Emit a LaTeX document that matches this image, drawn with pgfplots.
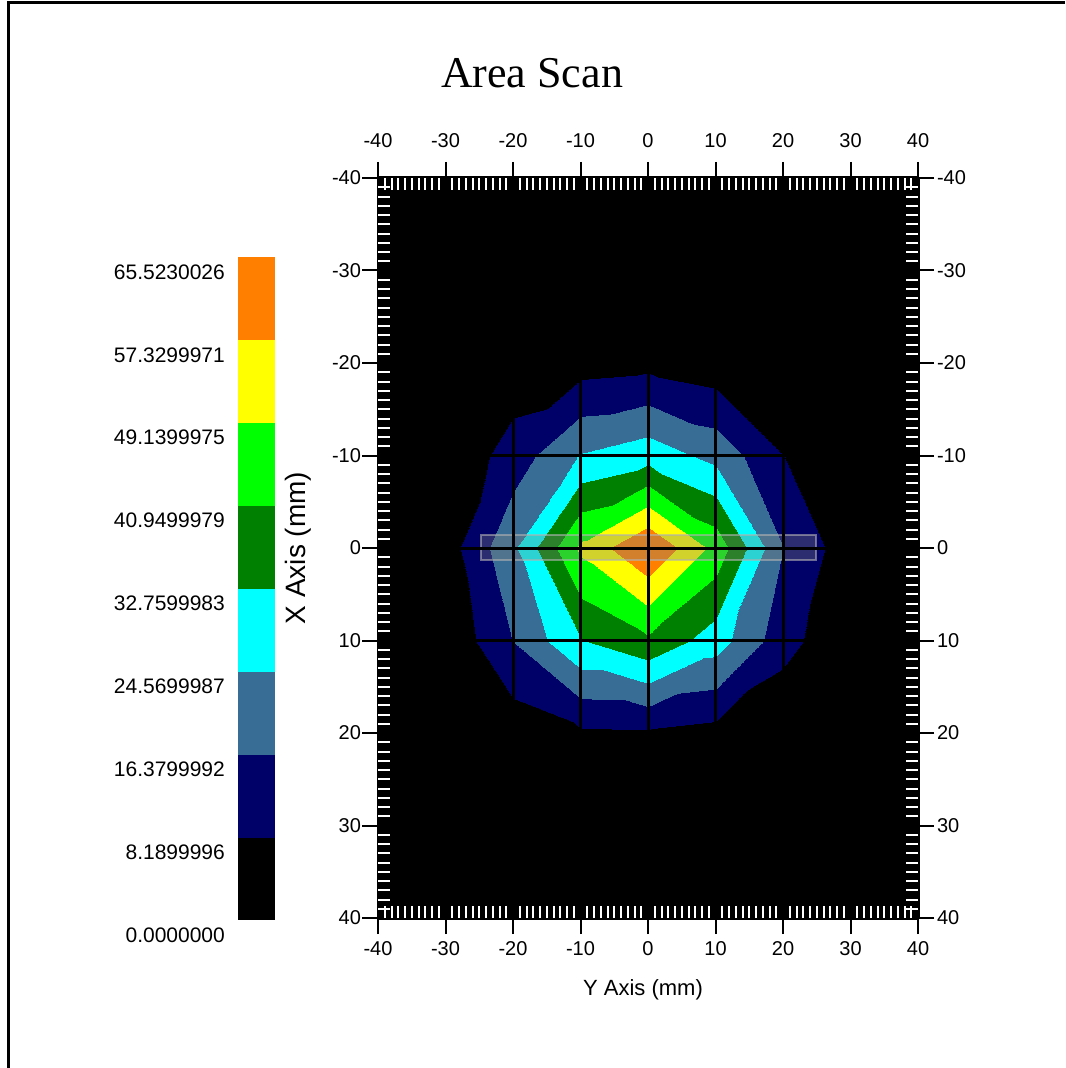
\documentclass[border=0pt]{standalone}
\usepackage{fontspec}
\setmainfont{Liberation Sans}
\newfontfamily\titlefont{Liberation Serif}
\usepackage{pgfplots}
\pgfplotsset{compat=1.18}

% discrete colour steps of the scan (8 bands)
\pgfplotsset{
  colormap={scan}{
    rgb255=(0,0,0) rgb255=(0,0,105) rgb255=(56,110,150) rgb255=(0,255,255)
    rgb255=(0,128,0) rgb255=(0,255,0) rgb255=(255,255,0) rgb255=(255,128,0)},
  scanpatch/.style={surf, shader=interp, mesh/cols=5, point meta=explicit},
}

% grid values, one quadrant per table (x order chosen so the cells split
% along the diagonal that follows the contours)
% upper right: Y -40..0, X 40..0
\pgfplotstableread{
x y v
40 -40 0
30 -40 0
20 -40 0
10 -40 0
0 -40 0

40 -30 0
30 -30 0
20 -30 0
10 -30 0
0 -30 0

40 -20 0
30 -20 0
20 -20 0.5
10 -20 3.0
0 -20 5.7

40 -10 0
30 -10 0.5
20 -10 8.4
10 -10 22.0
0 -10 29.5

40 0 0
30 0 3.1
20 0 16.5
10 0 46.5
0 0 65.523
}\quadUR

% upper left: Y -40..0, X -40..0
\pgfplotstableread{
x y v
-40 -40 0
-30 -40 0
-20 -40 0
-10 -40 0
0 -40 0

-40 -30 0
-30 -30 0
-20 -30 0
-10 -30 0
0 -30 0

-40 -20 0
-30 -20 0
-20 -20 2.6
-10 -20 4.5
0 -20 5.7

-40 -10 0
-30 -10 1.0
-20 -10 12.0
-10 -10 25.2
0 -10 29.5

-40 0 0
-30 0 4.2
-20 0 23.0
-10 0 51.0
0 0 65.523
}\quadUL

% lower left: Y 0..40, X 0..-40
\pgfplotstableread{
x y v
0 0 65.523
-10 0 51.0
-20 0 23.0
-30 0 4.2
-40 0 0

0 10 39.5
-10 10 32.3
-20 10 16.6
-30 10 1.4
-40 10 0

0 20 7.2
-10 20 7.0
-20 20 3.1
-30 20 0
-40 20 0

0 30 0
-10 30 0
-20 30 0
-30 30 0
-40 30 0

0 40 0
-10 40 0
-20 40 0
-30 40 0
-40 40 0
}\quadLL

% lower right: Y 0..40, X 0..40
\pgfplotstableread{
x y v
0 0 65.523
10 0 46.5
20 0 16.5
30 0 3.1
40 0 0

0 10 39.5
10 10 28.5
20 10 11.5
30 10 0.5
40 10 0

0 20 7.2
10 20 5.3
20 20 0.5
30 20 0
40 20 0

0 30 0
10 30 0
20 30 0
30 30 0
40 30 0

0 40 0
10 40 0
20 40 0
30 40 0
40 40 0
}\quadLR

\begin{document}
\begin{tikzpicture}[x=0.5pt,y=0.5pt]
\path[use as bounding box] (0,0) rectangle (1065,1068);
\draw[line width=1.5pt] (8.5,0) -- (8.5,1065) -- (1065,1065);

\begin{axis}[
    at={(189pt,75pt)}, anchor=south west,
    scale only axis, width=270pt, height=370pt,
    xmin=-40, xmax=40, ymin=-40, ymax=40,
    y dir=reverse,
    xtick={-40,-30,...,40}, ytick={-40,-30,...,40},
    tick pos=both, tick align=outside,
    major tick length=8pt,
    tick style={black, line width=1pt},
    grid=major,
    major grid style={black, line width=1.5pt},
    axis on top,
    axis background/.style={fill=black},
    colormap name=scan,
    colormap access=piecewise constant,
    point meta min=0, point meta max=65.523,
    ticklabel style={font=\fontsize{10}{12}\selectfont},
    yticklabel style={xshift=3pt},
    /pgf/number format/assume math mode=true,
    colorbar left,
    colorbar style={
        at={(parent axis.south west)}, anchor=south west,
        xshift=-61.5pt, yshift=-1pt,
        scale only axis, width=18.5pt, height=331.5pt,
        y dir=normal,
        axis line style={draw=none},
        major tick length=0pt,
        ytick={0,8.19,16.38,24.57,32.76,40.95,49.14,57.33,65.523},
        yticklabels={0.0000000,8.1899996,16.3799992,24.5699987,32.7599983,
                     40.9499979,49.1399975,57.3299971,65.5230026},
        yticklabel pos=left,
        yticklabel style={font=\fontsize{10.5}{12}\selectfont, yshift=-7.5pt, xshift=-3pt},
    },
]
\addplot[scanpatch] table[x=x, y=y, meta=v] {\quadUR};
\addplot[scanpatch] table[x=x, y=y, meta=v] {\quadUL};
\addplot[scanpatch] table[x=x, y=y, meta=v] {\quadLL};
\addplot[scanpatch] table[x=x, y=y, meta=v] {\quadLR};
% translucent selection strip along the 0 line
\draw[draw=gray!60, draw opacity=0.6, fill=gray, fill opacity=0.35, line width=1pt]
  (axis cs:-24.7,-1.4) rectangle (axis cs:24.9,1.3);
\end{axis}

% second layer: labels on top and right, white minor ticks inside
\begin{axis}[
    at={(189pt,75pt)}, anchor=south west,
    scale only axis, width=270pt, height=370pt,
    xmin=-40, xmax=40, ymin=-40, ymax=40,
    y dir=reverse,
    xtick={-40,-30,...,40}, ytick={-40,-30,...,40},
    xticklabel pos=upper, yticklabel pos=right,
    tick pos=both, tick align=inside,
    major tick length=0pt, minor tick length=6pt,
    minor tick num=9,
    minor tick style={white, line width=1pt},
    axis line style={draw=none},
    ticklabel style={font=\fontsize{10}{12}\selectfont},
    xticklabel style={yshift=11.5pt},
    yticklabel style={xshift=6pt},
    /pgf/number format/assume math mode=true,
]
\addplot[draw=none] coordinates {(0,0)};
\end{axis}

\node[font=\titlefont\fontsize{22}{26}\selectfont] at (532,995) {Area Scan};
\node[rotate=90, font=\fontsize{14}{16}\selectfont] at (298,520) {X Axis (mm)};
\node[font=\fontsize{11}{13}\selectfont] at (643,78) {Y Axis (mm)};
\end{tikzpicture}
\end{document}
